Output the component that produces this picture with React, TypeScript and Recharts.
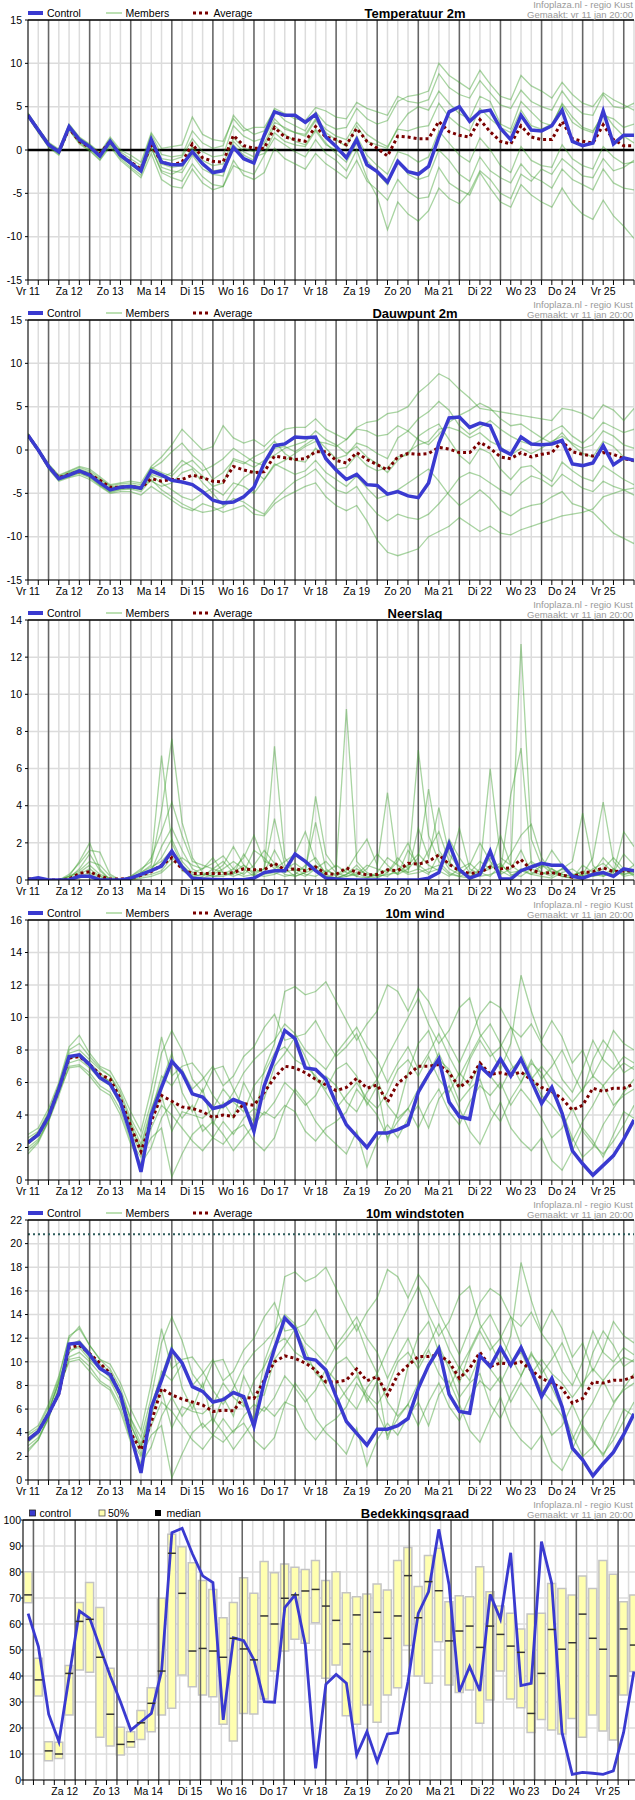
import React from 'react'
import { Bar, CartesianGrid, ComposedChart, Line, LineChart, ReferenceLine, XAxis, YAxis } from 'recharts'

// day labels (12:00 of each day) for the ensemble panels, 6-hourly steps
const ensDays = ['Vr 11', 'Za 12', 'Zo 13', 'Ma 14', 'Di 15', 'Wo 16', 'Do 17', 'Vr 18', 'Za 19', 'Zo 20', 'Ma 21', 'Di 22', 'Wo 23', 'Do 24', 'Vr 25']
const cloudDays = ['Za 12', 'Zo 13', 'Ma 14', 'Di 15', 'Wo 16', 'Do 17', 'Vr 18', 'Za 19', 'Zo 20', 'Ma 21', 'Di 22', 'Wo 23', 'Do 24', 'Vr 25']

// Temperatuur 2m
const tempControl = [
  4.0, 2.3, 0.6, -0.2, 2.7, 1.2, 0.4, -0.7, 1.0, -0.6,
  -1.5, -2.4, 1.2, -1.4, -1.7, -1.7, -0.2, -1.6, -2.6, -2.4,
  0.3, -1.0, -1.5, 1.7, 4.4, 4.0, 4.0, 3.2, 4.1, 1.5,
  0.4, -0.9, 1.2, -1.7, -2.5, -3.7, -1.3, -2.5, -2.8, -1.9,
  1.5, 4.4, 5.0, 3.3, 4.4, 4.6, 2.5, 1.2, 4.0, 2.3,
  2.2, 2.8, 4.6, 1.0, 0.5, 0.8, 4.5, 0.7, 1.7, 1.7,
]
const tempAverage = [
  4.0, 2.3, 0.6, -0.2, 2.5, 1.0, 0.3, -0.4, 1.0, -0.6,
  -1.4, -2.2, 0.6, -1.4, -1.7, -1.4, 0.7, -0.9, -1.3, -1.4,
  1.7, 0.5, 0.2, 0.2, 2.6, 1.5, 1.2, 1.0, 2.7, 1.5,
  1.2, 0.6, 2.5, 1.0, 0.2, -0.7, 1.6, 1.5, 1.3, 1.3,
  3.3, 2.1, 1.7, 1.5, 3.5, 2.1, 1.0, 0.7, 2.8, 1.5,
  1.2, 1.2, 3.3, 1.3, 1.0, 0.8, 2.9, 1.2, 0.5, 0.5,
]
const tempMembers = [
  [4.2, 2.5, 0.8, 0.0, 2.9, 1.4, 0.6, -0.4, 1.3, -0.2,
    -1.0, -1.8, 1.8, -0.5, -0.8, -0.6, 2.2, 0.8, 0.2, 0.5,
    4.0, 2.6, 1.8, 2.2, 4.8, 4.2, 3.6, 3.4, 4.9, 4.5,
    3.8, 3.6, 5.5, 4.8, 4.4, 4.0, 6.2, 5.6, 5.4, 5.8,
    8.8, 7.2, 6.4, 6.0, 8.0, 6.6, 5.2, 4.8, 6.9, 5.6,
    5.0, 4.6, 6.8, 5.2, 4.2, 4.0, 6.4, 5.0, 4.8, 5.4],
  [3.9, 2.1, 0.4, -0.5, 2.4, 0.8, 0.0, -1.1, 0.6, -1.0,
    -2.0, -2.9, 0.3, -2.6, -3.2, -3.6, -1.6, -3.1, -4.0, -4.2,
    -1.2, -2.9, -3.4, -2.6, 0.2, -1.0, -1.6, -2.2, -0.4, -1.6,
    -2.4, -3.3, -1.2, -3.6, -4.6, -5.8, -3.4, -4.8, -5.6, -5.4,
    -2.0, -3.8, -4.6, -5.2, -2.6, -4.4, -6.0, -6.6, -4.0, -5.2,
    -6.0, -6.6, -4.4, -6.2, -7.4, -8.0, -5.8, -7.6, -8.8, -10.2],
  [4.1, 2.4, 0.7, -0.1, 2.7, 1.1, 0.3, -0.6, 1.1, -0.5,
    -1.3, -2.2, 1.4, -1.0, -1.2, -0.8, 1.3, -0.2, -0.8, -0.6,
    2.8, 1.6, 1.0, 1.4, 3.6, 2.4, 2.0, 1.6, 3.4, 2.0,
    1.2, 0.4, 2.8, 1.0, 0.6, 0.2, 2.6, 4.2, 5.0, 4.6,
    6.8, 5.4, 4.2, 3.6, 6.2, 5.6, 3.0, 2.4, 5.6, 4.4,
    3.2, 2.8, 5.4, 3.8, 2.6, 2.2, 4.0, 3.6, 2.6, 3.0],
  [4.0, 2.2, 0.5, -0.3, 2.6, 1.0, 0.2, -0.9, 0.8, -0.8,
    -1.7, -2.6, 0.8, -2.0, -2.4, -2.6, -0.6, -2.2, -2.8, -3.0,
    0.6, -0.6, -1.2, 0.4, 2.8, 1.8, 1.0, 0.6, 2.4, 0.8,
    -0.4, -1.4, 0.8, -1.2, -2.6, -4.0, -1.2, -2.8, -3.4, -3.0,
    0.0, -1.2, -2.8, -3.6, -0.8, -2.4, -3.2, -3.8, -1.6, -3.0,
    -3.6, -4.4, -2.2, -3.4, -4.0, -4.6, -2.2, -3.8, -4.4, -4.6],
  [4.3, 2.5, 0.9, 0.1, 3.0, 1.5, 0.7, -0.3, 1.5, 0.0,
    -0.6, -1.4, 2.0, 0.2, 0.4, 0.6, 3.8, 1.8, 1.2, 1.0,
    3.6, 2.2, 2.6, 2.6, 4.6, 3.4, 2.8, 2.2, 4.4, 3.0,
    2.4, 2.6, 4.8, 3.6, 3.0, 3.4, 5.6, 6.2, 6.4, 6.8,
    10.0, 8.6, 7.8, 7.0, 9.2, 7.6, 6.2, 5.8, 8.6, 7.4,
    6.8, 6.0, 7.8, 6.4, 5.4, 5.0, 6.6, 5.8, 5.2, 4.6],
  [3.8, 2.0, 0.3, -0.6, 2.3, 0.7, -0.1, -1.2, 0.4, -1.2,
    -2.2, -3.2, -0.4, -3.4, -4.2, -4.4, -2.2, -3.8, -4.6, -4.2,
    -1.8, -2.4, -2.8, -0.6, 1.4, 0.6, -0.2, -0.8, 1.2, -0.4,
    -1.2, -2.4, 0.0, -3.2, -5.4, -9.2, -6.0, -7.4, -8.2, -7.0,
    -4.4, -5.6, -6.2, -4.8, -2.4, -3.4, -5.0, -5.6, -2.8, -3.6,
    -2.2, -2.8, -1.0, -2.0, -3.0, -3.2, -1.0, -2.4, -2.0, -1.2],
  [4.1, 2.3, 0.6, -0.2, 2.6, 1.1, 0.4, -0.5, 1.0, -0.6,
    -1.4, -2.3, 0.9, -1.6, -2.0, -1.8, 0.4, -1.2, -1.8, -1.6,
    1.4, 0.2, -0.2, 0.8, 3.2, 2.6, 2.0, 1.8, 3.6, 2.4,
    1.6, 1.2, 3.2, 1.8, 1.0, 0.4, 2.4, 2.2, 2.6, 2.8,
    5.4, 3.8, 2.8, 2.2, 4.8, 3.6, 2.6, 2.0, 4.6, 2.8,
    2.4, 3.0, 5.2, 3.2, 2.4, 2.0, 4.4, 2.8, 1.6, 0.8],
  [4.0, 2.2, 0.5, -0.4, 2.5, 0.9, 0.2, -0.8, 0.9, -0.8,
    -1.6, -2.5, 0.2, -2.4, -2.8, -2.2, 0.2, -1.8, -2.4, -2.2,
    1.0, -0.2, -0.8, -0.4, 2.0, 1.0, 0.6, 0.4, 2.2, 0.6,
    0.0, -0.8, 1.6, -0.6, -1.8, -2.8, -0.2, -0.6, -1.4, -0.8,
    2.2, 0.8, -0.6, -1.4, 1.4, 0.0, -1.8, -2.6, 0.4, -1.2,
    -1.8, -2.0, 0.6, -1.0, -1.8, -2.2, 0.4, -0.8, -1.6, -1.4],
]

// Dauwpunt 2m
const dewControl = [
  1.7, 0.0, -1.9, -3.3, -2.9, -2.4, -2.9, -3.8, -4.6, -4.3,
  -4.2, -4.4, -2.4, -2.9, -3.5, -3.7, -4.0, -4.8, -5.8, -6.1,
  -6.0, -5.4, -4.3, -1.5, 0.5, 0.7, 1.5, 1.4, 1.5, -1.0,
  -2.3, -3.4, -2.8, -4.0, -4.1, -5.1, -4.8, -5.3, -5.5, -3.8,
  0.8, 3.7, 3.8, 2.6, 3.1, 2.8, 0.1, -0.5, 1.5, 0.7,
  0.6, 0.7, 1.1, -1.6, -1.8, -1.5, 0.5, -1.7, -0.9, -1.2,
]
const dewAverage = [
  1.7, 0.0, -1.9, -3.2, -2.8, -2.5, -2.8, -3.5, -4.3, -4.3,
  -4.2, -4.4, -3.3, -3.6, -3.4, -3.4, -2.9, -3.2, -3.6, -3.7,
  -1.9, -2.3, -2.6, -2.5, -0.7, -0.9, -1.1, -1.0, -0.2, -0.2,
  -1.2, -1.5, -0.3, -1.1, -1.7, -2.3, -0.8, -0.4, -0.5, -0.4,
  0.3, 0.1, -0.3, -0.3, 0.9, 0.2, -0.8, -1.0, -0.3, -0.8,
  -0.5, -0.3, 1.0, -0.2, -0.5, -0.7, -0.3, -0.5, -1.0, -1.2,
]
const dewMembers = [
  [1.9, 0.2, -1.6, -2.9, -2.4, -1.9, -2.2, -3.1, -4.0, -3.8,
    -3.6, -3.8, -1.9, -0.8, 0.6, 2.4, 1.2, 0.0, 0.4, 2.8,
    1.4, 0.8, 1.2, 0.4, 1.6, 2.4, 2.6, 2.6, 3.6, 2.4,
    1.8, 1.2, 2.6, 3.2, 3.4, 4.2, 4.4, 5.0, 6.6, 7.6,
    8.8, 8.2, 7.0, 6.0, 4.8, 4.6, 4.4, 4.2, 4.0, 3.8,
    3.6, 3.4, 4.8, 4.6, 4.2, 3.6, 5.2, 4.6, 3.4, 4.8],
  [1.5, -0.2, -2.2, -3.6, -3.2, -2.9, -3.4, -4.2, -5.0, -4.8,
    -4.8, -5.2, -4.2, -5.0, -5.8, -6.6, -7.0, -6.2, -6.6, -7.2,
    -6.8, -6.4, -7.4, -7.6, -6.2, -5.4, -4.8, -4.2, -3.8, -5.4,
    -6.4, -7.0, -6.4, -8.2, -10.4, -11.8, -12.2, -11.8, -11.4, -10.0,
    -9.4, -8.8, -7.8, -8.6, -9.4, -8.8, -9.6, -9.8, -9.2, -8.8,
    -8.4, -8.0, -7.6, -7.4, -7.2, -6.8, -5.4, -5.0, -4.6, -4.4],
  [1.8, 0.1, -1.8, -3.1, -2.7, -2.2, -2.6, -3.6, -4.4, -4.1,
    -4.0, -4.2, -2.0, -2.6, -3.0, -1.8, -1.2, -2.4, -1.8, -1.0,
    0.2, -0.6, -1.4, -1.8, 0.2, 0.4, -0.2, 0.6, 1.4, 0.2,
    -1.0, -0.6, 0.8, 0.4, -0.4, -1.0, 1.4, 2.2, 3.6, 4.4,
    5.6, 4.6, 2.8, 1.8, 2.6, 3.4, 2.4, 1.6, 1.0, 0.6,
    1.2, 2.2, 2.8, 1.6, 0.8, 1.8, 3.2, 2.6, 2.0, 2.4],
  [1.6, -0.1, -2.0, -3.4, -3.0, -2.6, -3.1, -4.0, -4.8, -4.5,
    -4.4, -4.6, -3.0, -3.8, -4.6, -5.4, -5.8, -5.0, -4.4, -5.2,
    -3.8, -4.2, -5.0, -3.4, -1.6, -2.2, -2.8, -2.4, -1.2, -2.6,
    -3.4, -4.2, -3.0, -4.4, -5.6, -5.2, -4.6, -3.8, -3.0, -2.2,
    -3.6, -5.2, -6.4, -5.6, -4.6, -5.6, -7.0, -7.6, -6.8, -6.4,
    -6.2, -5.4, -4.8, -6.2, -6.6, -7.2, -8.4, -9.6, -10.2, -10.8],
  [1.7, 0.0, -1.9, -3.2, -2.8, -2.3, -2.7, -3.4, -4.2, -4.2,
    -4.3, -4.5, -2.2, -1.4, -0.2, 0.8, -0.6, -1.6, -3.4, -2.6,
    -1.2, -1.6, -0.8, -0.2, 1.0, -0.4, -1.2, -1.4, 0.2, -0.8,
    -2.2, -2.0, -0.6, -1.8, -2.4, -2.0, -0.8, -0.6, 1.6, 2.4,
    3.0, 1.2, -0.6, -1.6, 0.2, -0.4, -2.2, -3.4, -2.0, -1.8,
    -2.8, -3.6, -1.4, -2.4, -3.2, -3.6, -1.8, -2.6, -3.4, -4.0],
  [1.9, 0.1, -1.7, -3.0, -2.5, -2.0, -2.4, -3.3, -4.1, -3.9,
    -3.8, -4.0, -3.6, -4.2, -3.8, -2.6, -2.2, -3.8, -5.0, -6.4,
    -4.6, -3.2, -2.4, -3.4, -1.8, -1.2, -0.4, 0.4, 1.0, 0.8,
    0.4, 1.2, 2.4, 2.2, 1.6, 1.8, 2.8, 2.2, 1.2, 0.6,
    1.8, 3.2, 4.0, 4.6, 5.4, 4.8, 3.6, 2.8, 3.0, 2.2,
    1.4, 0.8, 2.0, 0.6, -0.4, -0.8, 1.0, 0.4, -0.8, -1.4],
  [1.6, -0.1, -2.1, -3.5, -3.1, -2.7, -3.2, -4.1, -4.9, -4.6,
    -4.5, -4.8, -3.4, -4.6, -5.4, -6.2, -6.8, -7.2, -7.0, -6.6,
    -5.6, -6.0, -6.8, -7.4, -5.8, -4.6, -3.6, -3.0, -2.2, -3.6,
    -4.6, -5.0, -4.2, -6.0, -7.4, -8.2, -7.4, -7.8, -8.0, -7.4,
    -6.2, -4.8, -3.2, -2.6, -3.0, -3.8, -4.6, -5.2, -3.8, -3.0,
    -3.4, -4.2, -2.8, -3.6, -4.4, -4.8, -3.6, -4.2, -4.6, -5.2],
  [1.8, 0.0, -1.8, -3.2, -2.6, -2.3, -2.8, -3.7, -4.5, -4.2,
    -4.1, -4.3, -2.8, -3.2, -2.6, -1.2, -2.0, -3.0, -4.2, -3.8,
    -1.0, -1.4, -2.0, -1.2, -0.6, 0.2, 0.6, 1.0, 2.2, 1.2,
    0.6, -0.4, 0.4, -0.8, -1.6, -2.6, -1.2, -0.2, 0.6, 1.0,
    2.4, 2.6, 2.2, 1.4, 2.0, 1.0, 0.4, -0.6, 0.2, -0.4,
    0.2, 1.0, 1.6, 0.8, 0.2, 0.6, 2.2, 1.6, 0.6, 0.2],
]

// Neerslag
const rainControl = [
  0.03, 0.12, 0, 0, 0, 0.2, 0.2, 0, 0, 0,
  0.1, 0.3, 0.5, 0.75, 1.55, 0.7, 0.1, 0.05, 0.03, 0.02,
  0.02, 0.02, 0.1, 0.4, 0.5, 0.5, 1.4, 1.0, 0.5, 0.1,
  0.05, 0.02, 0, 0, 0, 0, 0, 0, 0, 0.1,
  0.4, 1.95, 0.55, 0.1, 0.3, 1.55, 0.05, 0.05, 0.5, 0.7,
  0.9, 0.8, 0.8, 0.2, 0.1, 0.3, 0.4, 0.2, 0.6, 0.5,
]
const rainAverage = [
  0.05, 0.05, 0, 0, 0.05, 0.35, 0.45, 0.2, 0.05, 0.05,
  0.1, 0.25, 0.45, 0.8, 1.2, 0.6, 0.35, 0.35, 0.35, 0.35,
  0.4, 0.6, 0.55, 0.55, 0.9, 0.55, 0.6, 0.5, 0.7, 0.35,
  0.3, 0.65, 0.4, 0.27, 0.3, 0.55, 0.5, 0.9, 0.85, 1.0,
  1.35, 0.85, 0.5, 0.35, 0.4, 0.7, 0.6, 0.65, 1.1, 0.55,
  0.35, 0.4, 0.27, 0.15, 0.4, 0.45, 0.65, 0.45, 0.5, 0.5,
]
const rainMembers = [
  [0, 0.1, 0, 0, 0.2, 1.0, 2.0, 0.6, 0, 0,
    0.2, 0.6, 1.0, 6.7, 2.0, 0.8, 0.3, 0.2, 0.6, 1.0,
    0.4, 0.8, 0.3, 0.6, 7.2, 1.2, 0.4, 0.2, 0.6, 0.2,
    0.1, 0.3, 0.8, 0.2, 0.1, 0.4, 1.2, 0.6, 7.0, 2.4,
    1.0, 0.4, 0.2, 0.1, 0.6, 6.0, 1.2, 0.8, 12.7, 2.2,
    0.8, 0.6, 0.3, 0.2, 0.1, 0.4, 1.2, 0.6, 0.3, 0.5],
  [0.1, 0, 0, 0, 0.1, 0.6, 1.4, 0.5, 0, 0,
    0, 0.4, 0.8, 3.7, 7.6, 3.1, 1.2, 0.4, 0.2, 0.3,
    0.6, 1.2, 2.4, 1.0, 0.8, 0.3, 0.2, 0.4, 4.5, 1.4,
    0.6, 9.2, 1.0, 0.4, 0.2, 0.6, 0.3, 0.6, 1.2, 4.9,
    1.6, 0.8, 2.8, 0.6, 0.3, 0.8, 0.4, 4.6, 7.1, 0.9,
    0.4, 0.2, 0.6, 1.0, 3.6, 0.8, 0.2, 0.4, 1.4, 0.8],
  [0, 0, 0, 0, 0.3, 0.9, 1.6, 1.5, 0.3, 0,
    0.1, 0.3, 0.5, 1.8, 2.8, 1.6, 0.6, 0.3, 0.4, 0.8,
    1.8, 0.8, 0.4, 0.6, 3.3, 0.8, 0.5, 0.6, 3.1, 0.6,
    0.2, 0.5, 1.4, 2.2, 0.8, 4.7, 0.6, 0.4, 2.8, 1.2,
    3.9, 1.4, 0.6, 0.2, 0.3, 1.2, 0.6, 1.4, 2.4, 3.0,
    1.2, 0.4, 0.2, 0.1, 0.3, 1.2, 4.2, 1.0, 0.4, 0.8],
  [0.1, 0.1, 0, 0, 0, 0.2, 0.4, 0.2, 0, 0,
    0.2, 0.5, 1.2, 2.6, 4.2, 2.4, 1.0, 0.8, 0.6, 0.4,
    0.2, 0.4, 1.6, 1.2, 0.6, 1.0, 1.4, 2.6, 1.0, 0.4,
    0.8, 0.4, 0.2, 0.6, 1.4, 0.8, 0.3, 1.6, 0.8, 0.4,
    0.6, 2.2, 1.2, 0.4, 1.0, 0.6, 2.4, 0.8, 0.4, 1.0,
    0.6, 1.6, 0.8, 0.3, 0.2, 0.6, 0.9, 0.4, 2.6, 1.8],
  [0, 0, 0, 0, 0.2, 0.4, 0.8, 0.3, 0.1, 0,
    0, 0.2, 0.3, 0.5, 1.2, 0.8, 0.2, 0.1, 0.3, 0.6,
    1.0, 0.6, 0.2, 0.3, 0.4, 0.2, 0.3, 0.8, 1.2, 0.3,
    0.1, 0.2, 0.4, 0.1, 0.3, 0.2, 0.6, 0.3, 0.4, 0.6,
    0.8, 0.3, 0.2, 0.4, 0.2, 0.3, 0.5, 0.2, 0.6, 0.3,
    0.2, 0.1, 0.4, 0.6, 0.2, 0.3, 0.2, 0.5, 0.3, 0.4],
  [0, 0.1, 0, 0, 0.1, 0.3, 0.6, 0.2, 0, 0,
    0.1, 0.3, 0.6, 1.2, 2.2, 1.0, 0.4, 0.6, 1.2, 0.4,
    0.3, 1.4, 0.6, 0.4, 1.6, 0.6, 0.2, 0.4, 0.6, 1.0,
    0.4, 0.2, 0.3, 0.8, 0.6, 0.4, 1.0, 2.0, 0.6, 0.3,
    1.4, 0.6, 0.3, 0.8, 2.0, 1.0, 0.3, 0.6, 1.6, 0.4,
    0.3, 0.6, 0.2, 0.1, 0.8, 0.4, 0.6, 1.2, 0.6, 0.2],
  [0, 0, 0, 0, 0.2, 0.5, 1.0, 0.8, 0.2, 0,
    0, 0.1, 0.2, 0.4, 0.9, 1.2, 0.8, 0.6, 0.9, 1.3,
    0.6, 0.3, 0.8, 1.6, 0.9, 0.4, 0.6, 0.3, 0.2, 0.5,
    0.3, 0.6, 0.2, 0.1, 0.4, 1.2, 0.8, 0.4, 0.6, 1.6,
    2.6, 1.0, 0.4, 0.2, 0.4, 0.6, 0.9, 0.3, 0.2, 0.6,
    0.4, 0.3, 0.6, 0.3, 0.4, 0.2, 0.3, 0.6, 0.2, 0.3],
  [0.1, 0, 0, 0, 0, 0.1, 0.3, 0.1, 0, 0,
    0.1, 0.4, 0.7, 1.0, 1.6, 0.5, 0.2, 0.3, 0.2, 0.2,
    0.4, 0.2, 0.3, 0.2, 0.3, 0.6, 0.9, 0.5, 0.8, 0.2,
    0.1, 0.3, 0.6, 0.3, 0.2, 0.3, 0.4, 0.8, 1.4, 0.8,
    0.5, 0.2, 0.6, 0.9, 0.4, 0.2, 0.8, 0.4, 0.5, 0.3,
    0.8, 0.4, 0.3, 0.2, 0.5, 0.2, 0.4, 0.3, 0.6, 0.3],
]

// 10m wind
const windControl = [
  2.3, 2.8, 3.9, 5.6, 7.6, 7.7, 7.1, 6.3, 5.9, 4.8,
  2.8, 0.5, 4.0, 5.7, 7.3, 6.6, 5.3, 5.1, 4.4, 4.55,
  4.95, 4.7, 3.0, 5.8, 7.5, 9.2, 8.7, 6.9, 6.8, 6.2,
  4.7, 3.4, 2.7, 2.0, 2.9, 2.9, 3.1, 3.4, 5.4, 6.5,
  7.45, 4.8, 3.9, 3.75, 7.0, 6.4, 7.45, 6.4, 7.45, 6.1,
  4.7, 5.7, 4.1, 1.8, 1.0, 0.3, 0.9, 1.5, 2.5, 3.7,
]
const windAverage = [
  2.3, 2.8, 3.9, 5.6, 7.5, 7.6, 7.1, 6.5, 6.2, 5.0,
  3.3, 1.75, 3.6, 5.2, 4.85, 4.5, 4.4, 4.2, 3.85, 4.0,
  3.9, 4.7, 4.6, 5.4, 6.3, 7.0, 6.9, 6.6, 6.2, 5.85,
  5.5, 5.7, 6.25, 5.65, 5.85, 4.8, 5.95, 6.45, 7.0, 7.0,
  7.1, 6.6, 5.7, 6.15, 7.2, 6.5, 6.6, 6.45, 6.65, 6.15,
  5.7, 5.45, 5.0, 4.3, 4.6, 5.65, 5.45, 5.65, 5.65, 5.9,
]
const windMembers = [
  [2.6, 3.0, 4.2, 5.9, 8.0, 8.4, 7.6, 6.9, 6.4, 5.4,
    3.8, 2.6, 4.8, 7.8, 9.2, 8.0, 6.2, 5.4, 6.8, 7.0,
    5.6, 4.4, 3.6, 6.8, 8.4, 11.6, 11.9, 11.4, 11.6, 12.2,
    11.0, 9.8, 8.6, 9.6, 10.4, 12.0, 11.6, 10.4, 11.8, 11.0,
    9.6, 8.4, 7.2, 8.6, 10.2, 11.0, 10.6, 9.4, 8.8, 9.6,
    8.4, 7.6, 6.2, 5.4, 6.8, 8.6, 7.4, 6.8, 7.6, 7.2],
  [1.6, 2.3, 3.6, 5.2, 7.0, 7.1, 6.6, 5.8, 5.4, 4.3,
    2.4, 1.4, 2.6, 3.2, 0.2, 1.6, 2.8, 3.4, 2.6, 2.2,
    3.0, 3.4, 2.4, 1.8, 2.6, 4.4, 5.6, 4.8, 3.6, 2.8,
    2.2, 1.6, 3.0, 0.8, 2.4, 3.4, 2.6, 3.8, 4.6, 3.2,
    5.0, 5.8, 4.4, 3.0, 2.2, 3.6, 4.8, 3.2, 2.4, 1.8,
    2.6, 1.2, 0.6, 1.8, 3.2, 2.4, 1.4, 2.8, 4.2, 3.8],
  [2.2, 2.7, 4.0, 5.8, 7.4, 7.8, 7.2, 6.6, 6.0, 4.9,
    3.2, 2.0, 4.2, 6.4, 5.8, 6.8, 5.6, 6.2, 7.0, 5.8,
    6.4, 7.6, 8.2, 9.4, 10.2, 8.6, 8.8, 9.0, 9.8, 8.6,
    7.6, 8.2, 9.0, 7.4, 6.2, 7.6, 8.8, 10.0, 11.2, 9.6,
    8.4, 9.2, 10.6, 11.2, 9.0, 8.0, 6.8, 8.4, 12.6, 10.4,
    8.6, 9.8, 8.8, 7.2, 8.0, 6.4, 7.6, 9.2, 8.4, 8.0],
  [2.0, 2.5, 3.6, 5.4, 7.2, 7.4, 6.9, 6.2, 5.8, 4.6,
    3.0, 1.6, 3.2, 4.6, 4.0, 3.2, 2.4, 1.8, 2.6, 3.6,
    2.8, 3.8, 4.4, 4.0, 4.8, 6.0, 5.4, 4.6, 5.2, 6.4,
    5.8, 4.8, 4.2, 5.4, 6.2, 4.6, 3.8, 4.4, 5.6, 6.6,
    7.8, 6.4, 4.8, 5.6, 6.2, 4.4, 3.6, 5.0, 6.0, 7.2,
    6.6, 5.4, 4.2, 2.6, 1.4, 2.0, 3.4, 4.4, 5.4, 6.2],
  [2.4, 2.9, 4.1, 5.7, 7.8, 8.0, 7.4, 6.8, 6.4, 5.2,
    3.6, 2.2, 4.4, 6.0, 7.8, 5.4, 4.2, 5.6, 3.4, 4.8,
    3.8, 6.0, 4.8, 5.0, 7.0, 7.8, 8.8, 7.6, 6.2, 5.6,
    6.8, 7.2, 6.4, 4.6, 5.8, 2.4, 4.2, 6.6, 8.4, 9.2,
    7.4, 6.8, 5.6, 7.4, 8.6, 7.6, 8.2, 9.4, 7.8, 6.4,
    5.2, 4.6, 3.8, 2.4, 3.6, 4.6, 5.8, 4.6, 5.2, 5.6],
  [2.8, 3.2, 4.4, 6.0, 8.2, 8.9, 7.8, 7.0, 6.7, 5.6,
    4.2, 3.0, 5.6, 8.8, 6.4, 7.0, 7.2, 6.4, 5.2, 4.4,
    5.4, 6.6, 7.4, 8.0, 8.6, 9.6, 9.0, 8.0, 7.4, 6.8,
    7.8, 8.6, 9.4, 8.2, 7.4, 6.0, 7.2, 8.2, 6.8, 7.8,
    9.0, 7.6, 6.4, 7.6, 8.8, 9.6, 8.4, 7.2, 6.0, 7.4,
    6.2, 7.0, 8.0, 6.6, 5.4, 7.4, 8.6, 7.8, 6.6, 7.0],
  [1.8, 2.4, 3.7, 5.4, 6.9, 7.0, 6.4, 5.6, 5.2, 4.0,
    2.2, 1.0, 2.0, 3.8, 4.8, 3.8, 4.6, 3.0, 3.6, 2.8,
    1.8, 2.6, 3.4, 4.2, 3.8, 4.6, 4.2, 3.0, 2.4, 3.2,
    3.6, 4.2, 5.6, 4.8, 4.0, 2.6, 3.6, 4.4, 3.2, 4.6,
    5.6, 4.2, 3.4, 4.8, 5.8, 5.2, 6.0, 4.6, 5.6, 4.8,
    3.8, 2.6, 3.2, 4.4, 3.0, 2.2, 1.6, 2.4, 3.4, 4.6],
  [2.4, 2.9, 4.0, 5.6, 7.5, 7.6, 7.0, 6.4, 6.1, 4.9,
    3.4, 1.8, 3.8, 5.2, 3.0, 4.2, 4.0, 3.8, 4.4, 5.6,
    4.8, 4.2, 5.8, 6.6, 7.8, 8.2, 7.4, 7.0, 6.4, 5.4,
    4.4, 5.2, 6.0, 5.0, 4.4, 5.4, 6.8, 7.4, 6.4, 7.6,
    6.2, 5.4, 6.6, 5.8, 7.2, 6.4, 5.6, 6.8, 7.4, 6.2,
    7.0, 6.2, 5.6, 4.8, 5.6, 6.4, 5.8, 6.6, 7.2, 6.8],
]

// 10m windstoten
const gustControl = [
  3.4, 4.1, 5.6, 7.3, 11.5, 11.6, 10.6, 9.45, 8.9, 7.25,
  3.8, 0.6, 6.1, 8.45, 11.0, 9.9, 7.9, 7.5, 6.6, 6.8,
  7.4, 7.05, 4.55, 8.3, 11.1, 13.7, 12.8, 10.3, 10.15, 9.3,
  7.05, 4.95, 3.95, 2.95, 4.3, 4.3, 4.6, 5.2, 7.75, 9.7,
  11.1, 7.25, 5.8, 5.65, 10.5, 9.6, 11.2, 9.7, 11.2, 9.3,
  7.05, 8.6, 6.2, 2.7, 1.7, 0.35, 1.4, 2.35, 3.85, 5.6,
]
const gustAverage = [
  3.4, 4.1, 5.6, 7.3, 11.2, 11.4, 10.7, 9.9, 9.0, 7.2,
  3.95, 2.55, 4.9, 7.75, 7.2, 6.85, 6.6, 6.35, 5.8, 5.9,
  5.85, 7.0, 6.9, 8.45, 10.0, 10.5, 10.3, 9.9, 9.3, 8.3,
  8.3, 8.45, 9.4, 8.4, 8.75, 7.2, 8.9, 9.7, 10.45, 10.45,
  10.6, 10.0, 8.6, 9.45, 10.8, 9.6, 9.9, 9.8, 10.0, 9.3,
  8.6, 8.2, 7.75, 6.5, 6.9, 8.3, 8.2, 8.45, 8.45, 8.75,
]
const gustMembers = [
  [3.8, 4.4, 6.2, 8.6, 12.2, 12.8, 11.4, 10.2, 9.4, 7.8,
    5.2, 3.6, 7.0, 11.6, 13.8, 11.8, 9.0, 7.8, 10.0, 10.2,
    8.2, 6.4, 5.2, 10.0, 12.4, 17.2, 17.6, 16.8, 17.2, 18.0,
    16.2, 14.4, 12.6, 14.2, 15.4, 17.8, 17.2, 15.4, 17.4, 16.2,
    14.2, 12.4, 10.6, 12.8, 15.0, 16.2, 15.6, 13.8, 13.0, 14.2,
    12.4, 11.2, 9.2, 8.0, 10.0, 12.6, 10.8, 10.0, 11.2, 10.6],
  [2.4, 3.4, 5.2, 7.6, 10.2, 10.4, 9.6, 8.4, 7.8, 6.2,
    3.4, 2.0, 3.8, 4.6, 0.2, 2.2, 4.0, 4.8, 3.8, 3.2,
    4.2, 4.8, 3.4, 2.6, 3.6, 6.4, 8.2, 7.0, 5.2, 4.0,
    3.2, 2.2, 4.4, 1.2, 3.4, 4.8, 3.8, 5.4, 6.6, 4.6,
    7.2, 8.4, 6.4, 4.2, 3.2, 5.2, 7.0, 4.6, 3.4, 2.6,
    3.8, 1.6, 0.8, 2.6, 4.6, 3.4, 2.0, 4.0, 6.0, 5.4],
  [3.2, 3.9, 5.8, 8.4, 10.8, 11.4, 10.4, 9.6, 8.6, 7.0,
    4.6, 2.8, 6.0, 9.2, 8.4, 9.8, 8.0, 9.0, 10.2, 8.4,
    9.2, 11.0, 12.0, 13.8, 15.0, 12.6, 12.8, 13.2, 14.4, 12.6,
    11.0, 12.0, 13.2, 10.8, 9.0, 11.0, 12.8, 14.6, 16.4, 14.0,
    12.2, 13.4, 15.6, 16.4, 13.2, 11.6, 9.8, 12.2, 18.4, 15.2,
    12.6, 14.4, 12.8, 10.4, 11.6, 9.2, 11.0, 13.4, 12.2, 11.6],
  [2.9, 3.6, 5.2, 7.8, 10.4, 10.8, 10.0, 9.0, 8.4, 6.6,
    4.2, 2.2, 4.6, 6.6, 5.8, 4.6, 3.4, 2.6, 3.8, 5.2,
    4.0, 5.4, 6.4, 5.8, 7.0, 8.8, 7.8, 6.6, 7.6, 9.4,
    8.4, 7.0, 6.0, 7.8, 9.0, 6.6, 5.4, 6.4, 8.2, 9.6,
    11.4, 9.4, 7.0, 8.2, 9.0, 6.4, 5.2, 7.2, 8.8, 10.6,
    9.6, 7.8, 6.0, 3.8, 2.0, 2.8, 4.8, 6.4, 7.8, 9.0],
  [3.5, 4.2, 5.9, 8.2, 11.4, 11.8, 10.8, 9.8, 9.2, 7.4,
    5.2, 3.0, 6.4, 8.8, 11.4, 7.8, 6.0, 8.2, 4.8, 7.0,
    5.4, 8.8, 7.0, 7.2, 10.2, 11.4, 12.8, 11.0, 9.0, 8.2,
    9.8, 10.4, 9.2, 6.6, 8.4, 3.4, 6.0, 9.6, 12.2, 13.4,
    10.8, 9.8, 8.2, 10.8, 12.6, 11.0, 12.0, 13.8, 11.4, 9.4,
    7.6, 6.6, 5.4, 3.4, 5.2, 6.6, 8.4, 6.6, 7.6, 8.2],
  [4.0, 4.6, 6.4, 8.8, 12.0, 13.0, 11.4, 10.2, 9.8, 8.2,
    6.0, 4.2, 8.2, 12.8, 9.4, 10.2, 10.4, 9.2, 7.6, 6.4,
    7.8, 9.6, 10.8, 11.6, 12.6, 14.0, 13.2, 11.6, 10.8, 9.8,
    11.4, 12.6, 13.8, 12.0, 10.8, 8.6, 10.4, 12.0, 9.8, 11.4,
    13.2, 11.0, 9.4, 11.0, 12.8, 14.0, 12.2, 10.4, 8.8, 10.8,
    9.0, 10.2, 11.6, 9.6, 7.8, 10.8, 12.6, 11.4, 9.6, 10.2],
  [2.6, 3.4, 5.4, 7.8, 10.0, 10.2, 9.2, 8.2, 7.6, 5.8,
    3.2, 1.4, 2.8, 5.4, 7.0, 5.4, 6.6, 4.4, 5.2, 4.0,
    2.6, 3.8, 5.0, 6.2, 5.4, 6.6, 6.2, 4.4, 3.4, 4.6,
    5.2, 6.2, 8.2, 7.0, 5.8, 3.8, 5.2, 6.4, 4.6, 6.6,
    8.2, 6.2, 5.0, 7.0, 8.4, 7.6, 8.8, 6.6, 8.2, 7.0,
    5.6, 3.8, 4.6, 6.4, 4.4, 3.2, 2.2, 3.4, 5.0, 6.6],
  [3.5, 4.2, 5.8, 8.2, 11.0, 11.2, 10.2, 9.4, 8.8, 7.2,
    4.8, 2.6, 5.6, 7.6, 4.4, 6.2, 5.8, 5.6, 6.4, 8.2,
    7.0, 6.2, 8.4, 9.6, 11.4, 12.0, 10.8, 10.2, 9.4, 7.8,
    6.4, 7.6, 8.8, 7.2, 6.4, 7.8, 10.0, 10.8, 9.4, 11.0,
    9.0, 7.8, 9.6, 8.4, 10.6, 9.4, 8.2, 10.0, 10.8, 9.0,
    10.2, 9.0, 8.2, 7.0, 8.2, 9.4, 8.4, 9.6, 10.4, 10.0],
]
const gustWarning = 20.8

// Bedekkingsgraad (6-hourly blocks)
const cloudLow = [
  68.2, 32.3, 7.4, 8.3, 25, 42.3, 41.4, 16.4, 13.1, 9.6,
  12.6, 15.6, 18.6, 25, 27.6, 40.4, 35.9, 32.7, 32, 21.4,
  15, 25.6, 25.4, 31.2, 41.9, 49.6, 54.1, 52.6, 60.5, 39.1,
  44.2, 24.7, 21.4, 28.8, 22.2, 32.7, 35.5, 51.7, 40, 37.2,
  53.2, 36.5, 33.7, 34.6, 21.8, 30.8, 41.9, 31.2, 27.8, 18.3,
  23.3, 19.2, 17.7, 23.7, 16.4, 25, 18.8, 15.4, 32.7, 41.7,
]
const cloudHigh = [
  80.1, 46.8, 14.7, 14.5, 44, 68.3, 76, 66.3, 43, 20.3,
  18.6, 26.7, 35.5, 69.9, 94.5, 89.7, 83.6, 76.7, 73.3, 62.4,
  68.3, 77.8, 71.8, 84, 79.7, 83.1, 81.8, 81, 84.4, 76.7,
  80.1, 72, 70.5, 71.5, 75.4, 73.1, 84.4, 89.4, 74.4, 86.3,
  89.1, 68.6, 70.9, 70.5, 82, 72.4, 66.9, 64.1, 58.1, 63.8,
  64.1, 75.6, 73.7, 71.2, 78.5, 73.7, 84.4, 79.1, 68.6, 71.2,
]
const cloudMedian = [
  71.2, 38.5, 11.2, 10, 41, 61, 61.8, 47.2, 25.3, 13.7,
  14.7, 22, 29.5, 41.9, 87.2, 71.8, 49.6, 50.6, 49.6, 47.2,
  54.5, 50.4, 46.2, 63.1, 60, 69.9, 71.2, 72.7, 73.3, 66.9,
  61.4, 52.3, 63.5, 49.4, 64.5, 54.5, 63.1, 78.6, 62.4, 76.3,
  72.8, 53.5, 57.3, 59.2, 51, 59.2, 56, 51.5, 49.1, 25.6,
  41, 57.9, 50.3, 52.8, 63.8, 54.5, 50.3, 40, 58.1, 51.9,
]
const cloudControl = [
  64, 51.3, 25.3, 14.7, 40, 65, 62.2, 51, 40, 30,
  19.2, 22.4, 25.6, 41.9, 95.1, 96.8, 87, 78.5, 75.9, 23.1,
  54.7, 53.6, 46.2, 30.1, 29.9, 66.3, 71.2, 51.9, 4.5, 36.8,
  40.6, 37.2, 9.6, 18.6, 7.1, 17.7, 18.2, 37.8, 64.1, 72.4,
  96.4, 75, 34, 43.6, 34.2, 71.4, 61.9, 87.4, 36.3, 37.2,
  91.7, 75.6, 18.3, 2.2, 2.9, 2.6, 2.2, 3.5, 18.3, 41.7,
]

const CONTROL = '#3a3ad0'
const AVERAGE = '#7a0000'
const MEMBER = '#3f9f2f'
const GRID = '#dcdcdc'
const DAYLINE = '#666666'
const FONT = '"Liberation Sans", Arial, sans-serif'

const ensTicks = Array.from({ length: 60 }, (_, i) => i)
const ensDayLines = Array.from({ length: 15 }, (_, k) => 2 + 4 * k)
const cloudTicks = Array.from({ length: 61 }, (_, i) => i)
const cloudDayLines = Array.from({ length: 15 }, (_, k) => 1 + 4 * k)

const ensLabel = (i: number) => (i % 4 === 0 ? ensDays[i / 4] ?? '' : '')
const cloudLabel = (i: number) => (i >= 4 && (i - 4) % 4 === 0 ? cloudDays[(i - 4) / 4] ?? '' : '')

const range = (min: number, max: number, step: number) => {
  const out: number[] = []
  for (let v = min; v <= max + 1e-9; v += step) out.push(v)
  return out
}

const buildRows = (control: number[], average: number[], members: number[][]) =>
  control.map((c, i) => {
    const row: Record<string, number> = { t: i, c, a: average[i] }
    members.forEach((m, k) => {
      row['m' + k] = m[i]
    })
    return row
  })

function HeaderInfo({ title }: { title: string }) {
  return (
    <>
      <text x={415} y={17.5} textAnchor="middle" fontSize={13} fontWeight="bold" fill="#000">
        {title}
      </text>
      <text x={633} y={7.5} textAnchor="end" fontSize={9.5} fill="#999">
        Infoplaza.nl - regio Kust
      </text>
      <text x={633} y={17.5} textAnchor="end" fontSize={9.5} fill="#999">
        Gemaakt: vr 11 jan 20:00
      </text>
    </>
  )
}

interface EnsembleProps {
  title: string
  control: number[]
  average: number[]
  members: number[][]
  yMin: number
  yMax: number
  yStep: number
  zeroLine?: boolean
  warning?: number
}

function EnsemblePanel({ title, control, average, members, yMin, yMax, yStep, zeroLine, warning }: EnsembleProps) {
  const rows = buildRows(control, average, members)
  return (
    <div style={{ position: 'relative', width: 635, height: 300 }}>
      <LineChart width={635} height={300} data={rows} margin={{ top: 20, right: 1, bottom: 0, left: 0 }}>
        <CartesianGrid stroke={GRID} strokeWidth={1.5} />
        <XAxis
          dataKey="t"
          type="number"
          domain={[0, 59]}
          allowDataOverflow
          ticks={ensTicks}
          interval={0}
          tickFormatter={ensLabel}
          height={20}
          tickSize={5}
          tickMargin={3}
          stroke="#000"
          tick={{ fill: '#000', fontSize: 10.5 }}
        />
        <YAxis
          type="number"
          domain={[yMin, yMax]}
          allowDataOverflow
          ticks={range(yMin, yMax, yStep)}
          interval={0}
          width={28}
          tickSize={3}
          tickMargin={3}
          stroke="#000"
          tick={{ fill: '#000', fontSize: 10.5 }}
        />
        {ensDayLines.map((x) => (
          <ReferenceLine key={x} x={x} stroke={DAYLINE} strokeWidth={1.5} />
        ))}
        <ReferenceLine y={yMax} stroke="#000" strokeWidth={1.5} />
        {zeroLine && <ReferenceLine y={0} stroke="#000" strokeWidth={2.5} />}
        {warning !== undefined && (
          <ReferenceLine y={warning} stroke="#2e5c5c" strokeWidth={2} strokeDasharray="2 3" />
        )}
        {members.map((_, k) => (
          <Line
            key={k}
            dataKey={'m' + k}
            stroke={MEMBER}
            strokeOpacity={0.45}
            strokeWidth={1.3}
            dot={false}
            activeDot={false}
            isAnimationActive={false}
          />
        ))}
        <Line
          dataKey="a"
          stroke={AVERAGE}
          strokeWidth={3}
          strokeDasharray="3 3"
          dot={false}
          activeDot={false}
          isAnimationActive={false}
        />
        <Line dataKey="c" stroke={CONTROL} strokeWidth={3.5} dot={false} activeDot={false} isAnimationActive={false} />
      </LineChart>
      <svg width={635} height={20} style={{ position: 'absolute', left: 0, top: 0 }}>
        <g fontSize={10.5} fill="#000">
          <line x1={28} x2={43} y1={13} y2={13} stroke={CONTROL} strokeWidth={4} />
          <text x={47} y={16.5}>Control</text>
          <line x1={106} x2={122} y1={13} y2={13} stroke="#8fcc80" strokeWidth={1.2} />
          <text x={125.5} y={16.5}>Members</text>
          <line x1={193} x2={208} y1={13} y2={13} stroke={AVERAGE} strokeWidth={3} strokeDasharray="3 3" />
          <text x={213.5} y={16.5}>Average</text>
        </g>
        <HeaderInfo title={title} />
      </svg>
    </div>
  )
}

function CloudPanel() {
  const rows = cloudControl.map((c, j) => ({
    k: j,
    range: [cloudLow[j], cloudHigh[j]],
    med: cloudMedian[j],
    ctrl: c,
  }))
  const renderMedian = (props: any) => {
    const { cx, cy, index } = props
    if (cx == null || cy == null) return <g key={`md${index}`} />
    return <line key={`md${index}`} x1={cx - 4} x2={cx + 4} y1={cy} y2={cy} stroke="#333" strokeWidth={1.5} />
  }
  return (
    <div style={{ position: 'relative', width: 635, height: 300 }}>
      <ComposedChart width={639} height={300} data={rows} margin={{ top: 20, right: 0, bottom: 0, left: 0 }}>
        <CartesianGrid xAxisId="t" stroke={GRID} strokeWidth={1.5} />
        <XAxis
          xAxisId="t"
          type="number"
          domain={[0, 60]}
          allowDataOverflow
          ticks={cloudTicks}
          interval={0}
          tickFormatter={cloudLabel}
          height={20}
          tickSize={5}
          tickMargin={3}
          stroke="#000"
          tick={{ fill: '#000', fontSize: 10.5 }}
        />
        <XAxis xAxisId="c" dataKey="k" type="category" hide height={0} />
        <YAxis
          type="number"
          domain={[0, 100]}
          allowDataOverflow
          ticks={range(0, 100, 10)}
          interval={0}
          width={23}
          tickSize={2}
          tickMargin={0}
          stroke="#000"
          tick={{ fill: '#000', fontSize: 10.5 }}
        />
        {cloudDayLines.map((x) => (
          <ReferenceLine key={x} xAxisId="t" x={x} stroke={DAYLINE} strokeWidth={1.5} />
        ))}
        <ReferenceLine xAxisId="t" y={100} stroke="#000" strokeWidth={1.5} />
        <Bar
          xAxisId="c"
          dataKey="range"
          barSize={8}
          fill="#ffffb0"
          stroke="#c4c4c4"
          strokeWidth={1.5}
          isAnimationActive={false}
        />
        <Line
          xAxisId="c"
          dataKey="med"
          stroke="none"
          dot={renderMedian}
          activeDot={false}
          isAnimationActive={false}
        />
        <Line
          xAxisId="c"
          dataKey="ctrl"
          stroke={CONTROL}
          strokeWidth={2.8}
          dot={false}
          activeDot={false}
          isAnimationActive={false}
        />
      </ComposedChart>
      <svg width={635} height={20} style={{ position: 'absolute', left: 0, top: 0 }}>
        <g fontSize={10.5} fill="#000">
          <rect x={29.5} y={10} width={6} height={6} fill={CONTROL} stroke="#222" strokeWidth={0.8} />
          <text x={39.5} y={16.5}>control</text>
          <rect x={99} y={10} width={6} height={6} fill="#ffffb0" stroke="#555" strokeWidth={0.8} />
          <text x={108} y={16.5}>50%</text>
          <rect x={155} y={10} width={6} height={6} fill="#000" />
          <text x={166.5} y={16.5}>median</text>
        </g>
        <HeaderInfo title="Bedekkingsgraad" />
      </svg>
    </div>
  )
}

export default function App() {
  return (
    <div style={{ width: 635, overflow: 'hidden', fontFamily: FONT, background: '#fff' }}>
      <style>{'body { margin: 0; }'}</style>
      <EnsemblePanel
        title="Temperatuur 2m"
        control={tempControl}
        average={tempAverage}
        members={tempMembers}
        yMin={-15}
        yMax={15}
        yStep={5}
        zeroLine
      />
      <EnsemblePanel
        title="Dauwpunt 2m"
        control={dewControl}
        average={dewAverage}
        members={dewMembers}
        yMin={-15}
        yMax={15}
        yStep={5}
      />
      <EnsemblePanel
        title="Neerslag"
        control={rainControl}
        average={rainAverage}
        members={rainMembers}
        yMin={0}
        yMax={14}
        yStep={2}
      />
      <EnsemblePanel
        title="10m wind"
        control={windControl}
        average={windAverage}
        members={windMembers}
        yMin={0}
        yMax={16}
        yStep={2}
      />
      <EnsemblePanel
        title="10m windstoten"
        control={gustControl}
        average={gustAverage}
        members={gustMembers}
        yMin={0}
        yMax={22}
        yStep={2}
        warning={gustWarning}
      />
      <CloudPanel />
    </div>
  )
}
